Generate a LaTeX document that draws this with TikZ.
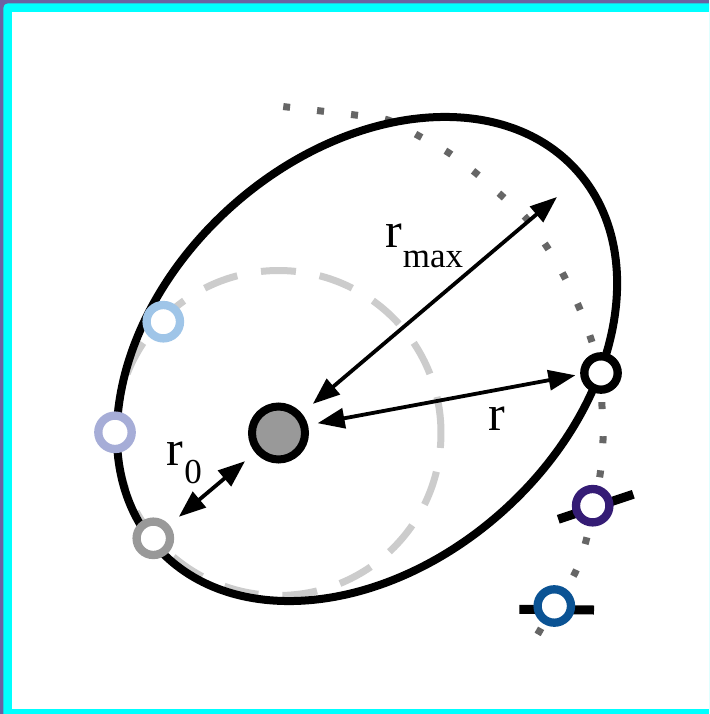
\documentclass[tikz,border=0pt]{standalone}
\usepackage{fontspec}
\setmainfont{Liberation Serif}
\usetikzlibrary{arrows.meta}
\definecolor{bgpurple}{HTML}{6A62A2}
\definecolor{bordercyan}{HTML}{00FFFF}
\definecolor{dashgrey}{HTML}{CCCCCC}
\definecolor{dotgrey}{HTML}{666666}
\definecolor{bodygrey}{HTML}{999999}
\definecolor{lightblue}{HTML}{9FC5E8}
\definecolor{lavender}{HTML}{A6ADD7}
\definecolor{darkpurple}{HTML}{351C75}
\definecolor{darkblue}{HTML}{0B5394}
\tikzset{
  marker/.style={circle, draw, fill=white, line width=8.3pt, minimum size=33.4pt, inner sep=0pt},
  arr/.style={line width=3.8pt, {Triangle[length=27pt,width=20pt]}-{Triangle[length=27pt,width=20pt]}},
  lbl/.style={anchor=base west, inner sep=0pt, font=\fontsize{50}{56}\selectfont},
  tickline/.style={line width=9pt, black},
}
\newcommand{\subtxt}[2]{\raisebox{#1}{\fontsize{35}{35}\selectfont #2}}
\begin{document}
\begin{tikzpicture}[x=1pt,y=-1pt]
\useasboundingbox (0,0) rectangle (709,714);
% frame
\fill[bgpurple] (0,0) rectangle (709,714);
\fill[bordercyan] (3.3,8) -- (3.3,714) -- (709,714) -- (709,3.3) -- (8,3.3) arc[start angle=90, end angle=180, radius=4.7pt] -- cycle;
\fill[white] (12.3,12.5) rectangle (709,709);

% central body position
\coordinate (c) at (278.5,433);

% dashed circle
\draw[dashgrey, line width=7pt, dash pattern=on 35pt off 24.1pt]
  ([shift={(0.5:162.5pt)}]c) arc[start angle=0.5, end angle=360.5, radius=162.5pt];

% dotted trajectory
\draw[dotgrey, line width=7pt, dash pattern=on 7pt off 27.2pt]
  plot[smooth, tension=0.5] coordinates {(283.5,106.6) (287,107) (321,111) (355,115) (388,120) (419,136) (449,153) (477,174) (502,196) (526,218) (547,247) (564,276) (579,307) (591,339) (601,373) (602,407) (603,440) (600,475) (593,506) (586,541) (575,573) (554,606) (539,632) (536,637)};

% orbit ellipse
\draw[line width=8pt, shift={(367,359)}, rotate=42] (0,0) ellipse [x radius=282pt, y radius=204pt];

% tick lines
\draw[tickline] (558.3,519.3) -- (633.3,494.3);
\draw[tickline] (519.3,609.3) -- (594,610);

% nodes
\node[circle, draw, fill=bodygrey, line width=8pt, minimum size=53pt, inner sep=0pt] (body) at (c) {};
\node[marker, draw=lightblue] (pblue) at (163.3,321.7) {};
\node[marker, draw=lavender] (plav) at (115,432.3) {};
\node[marker, draw=bodygrey] (pgrey) at (153.3,538.3) {};
\node[marker, draw=black] (pwhite) at (601,373) {};
\node[marker, draw=darkpurple] (ppurple) at (592.7,505.7) {};
\node[marker, draw=darkblue] (pdblue) at (554.3,606) {};

\coordinate (rmaxend) at (557,197);

% arrows
\draw[arr, shorten >=14.5pt] (rmaxend) -- (body);
\draw[arr, shorten <=39.8pt, shorten >=26pt] ([yshift=2.5pt]body.center) -- ([yshift=2.5pt]pwhite.center);
\draw[arr, shorten <=13.2pt, shorten >=12.5pt] (body) -- (pgrey);

% labels
\node[lbl] (lrmax) at (385,247) {r\kern1pt\subtxt{-20pt}{max}};
\node[lbl] (lr) at (488,430) {r};
\node[lbl] (lr0) at (166.5,465) {r\kern1pt\subtxt{-18pt}{0}};
\end{tikzpicture}
\end{document}
